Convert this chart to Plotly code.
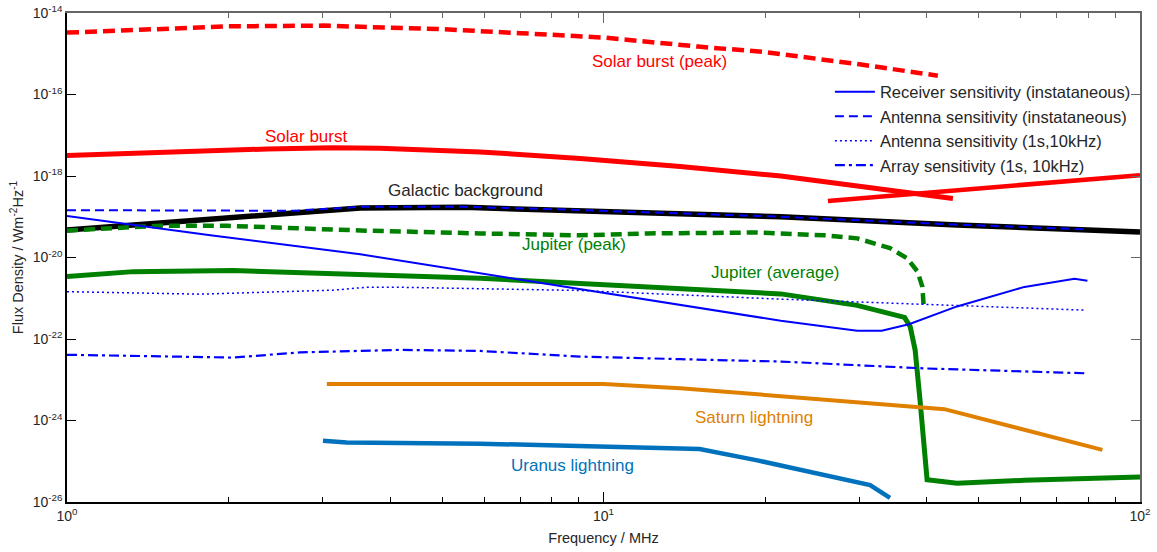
import numpy as np
import plotly.graph_objects as go

# ---------------- data (frequency in MHz, flux density in W m^-2 Hz^-1) ----------------
sbp_f = [1.0, 1.5, 2.0, 3.0, 4.0, 5.0, 7.0, 10, 15, 20, 30, 42]
sbp_s = [3.3e-15, 4.2e-15, 4.7e-15, 4.9e-15, 4.45e-15, 4.0e-15, 3.2e-15, 2.5e-15, 1.5e-15, 1.1e-15, 5.5e-16, 2.9e-16]

sb_f = [1.0, 1.33, 1.77, 2.36, 3.13, 3.83, 5.89, 9.05, 13.9, 21.4, 44.8]
sb_s = [3.2e-18, 3.6e-18, 4.2e-18, 4.6e-18, 4.9e-18, 4.8e-18, 3.9e-18, 2.7e-18, 1.7e-18, 1.0e-18, 2.8e-19]

sbh_f = [26.2, 100]
sbh_s = [2.45e-19, 1.05e-18]

gal_f = [1.0, 1.39, 1.85, 2.64, 3.52, 5.5, 7.85, 12.06, 18.5, 21.4, 45.6, 100]
gal_s = [4.7e-20, 6.4e-20, 8.7e-20, 1.26e-19, 1.65e-19, 1.7e-19, 1.5e-19, 1.28e-19, 1.1e-19, 1.0e-19, 6.3e-20, 4.2e-20]

jp_f = [1.0, 1.49, 1.99, 2.64, 3.52, 5.89, 9.05, 12.06, 19.35, 25.8, 29.7, 34.2, 36.8, 38.5, 39.3, 39.5]
jp_s = [4.6e-20, 6.0e-20, 6.0e-20, 5.2e-20, 4.6e-20, 3.9e-20, 3.5e-20, 3.9e-20, 4.1e-20, 3.5e-20,
        2.95e-20, 1.7e-20, 9.6e-21, 4.5e-21, 1.9e-21, 6.9e-22]

ja_f = [1.0, 1.33, 2.04, 3.13, 3.62, 5.89, 9.05, 13.9, 21.4, 29.7, 36.4, 37.3, 38.1, 38.9, 39.6, 40.1, 45.6, 60.9, 100]
ja_s = [3.4e-21, 4.5e-21, 4.8e-21, 4.1e-21, 3.7e-21, 3.1e-21, 2.3e-21, 1.76e-21, 1.28e-21, 6.7e-22,
        3.4e-22, 2.0e-22, 5.3e-23, 3.2e-24, 1.6e-25, 3.5e-26, 2.9e-26, 3.4e-26, 4.1e-26]

sat_f = [3.05, 10, 13.9, 21.4, 38.9, 43.2, 85.1]
sat_s = [7.9e-24, 7.9e-24, 6.2e-24, 3.9e-24, 2.1e-24, 1.9e-24, 1.9e-25]

ura_f = [3.0, 3.32, 5.89, 9.05, 15.1, 19.35, 31.4, 34.2]
ura_s = [3.2e-25, 2.9e-25, 2.7e-25, 2.3e-25, 2.0e-25, 1.05e-25, 2.6e-26, 1.26e-26]

rx_f = [1.0, 1.85, 3.52, 5.3, 10, 21.4, 29.7, 33.0, 37.1, 45.6, 60.9, 75.5, 79.8]
rx_s = [1.05e-19, 3.5e-20, 1.2e-20, 5.1e-21, 1.4e-21, 2.8e-22, 1.6e-22, 1.6e-22, 2.3e-22, 6.3e-22, 1.9e-21, 3.0e-21, 2.7e-21]

ant_f = [1.0, 1.85, 2.64, 3.52, 5.5, 7.85, 12.06, 18.5, 21.4, 45.6, 79.8]
ant_s = [1.45e-19, 1.45e-19, 1.4e-19, 1.75e-19, 1.75e-19, 1.55e-19, 1.3e-19, 1.1e-19, 1.0e-19, 6.4e-20, 4.9e-20]

ant1_f = [1.0, 1.77, 3.13, 3.62, 4.18, 9.05, 21.4, 39.6, 79.1]
ant1_s = [1.45e-21, 1.26e-21, 1.58e-21, 1.86e-21, 1.86e-21, 1.55e-21, 9.5e-22, 7.2e-22, 5.1e-22]

arr_f = [1.0, 1.77, 2.04, 2.72, 4.18, 5.89, 9.05, 13.9, 21.4, 39.6, 79.1]
arr_s = [4.1e-23, 3.6e-23, 3.5e-23, 4.7e-23, 5.4e-23, 5.1e-23, 3.7e-23, 3.2e-23, 2.8e-23, 1.9e-23, 1.44e-23]

x_major = [1, 10, 100]
x_major_text = ["10<sup>0</sup>", "10<sup>1</sup>", "10<sup>2</sup>"]
x_minor = [2, 3, 4, 5, 6, 7, 8, 9, 20, 30, 40, 50, 60, 70, 80, 90]
y_exps = [-26, -24, -22, -20, -18, -16, -14]

legend_names = ["Receiver sensitivity (instataneous)", "Antenna sensitivity (instataneous)",
                "Antenna sensitivity (1s,10kHz)", "Array sensitivity (1s, 10kHz)"]

# ---------------- figure ----------------
RED = "#FF0000"
GREEN = "#008000"
BLUE = "#0000FF"
ORANGE = "#E08000"
URANUS = "#0072BD"

fig = go.Figure()

def add(x, y, color, width, dash="solid", name=None, show=False):
    fig.add_trace(go.Scatter(x=x, y=y, mode="lines", name=name, showlegend=show,
                             line=dict(color=color, width=width, dash=dash),
                             hoverinfo="skip"))

add(sbp_f, sbp_s, RED, 4.5, "12px,6px")
add(sb_f, sb_s, RED, 5)
add(sbh_f, sbh_s, RED, 4.5)
add(gal_f, gal_s, "black", 5.5)
add(jp_f, jp_s, GREEN, 4.5, "11px,6px")
add(ja_f, ja_s, GREEN, 5)
add(sat_f, sat_s, ORANGE, 4)
add(ura_f, ura_s, URANUS, 4.5)
add(rx_f, rx_s, BLUE, 2, "solid", legend_names[0], True)
add(ant_f, ant_s, BLUE, 2, "9px,5px", legend_names[1], True)
add(ant1_f, ant1_s, BLUE, 1.5, "2px,3px", legend_names[2], True)
add(arr_f, arr_s, BLUE, 2.2, "10px,4px,3px,4px", legend_names[3], True)

# invisible trace anchoring the mirrored (gray) frame axes
fig.add_trace(go.Scatter(x=gal_f, y=gal_s, mode="lines", xaxis="x2", yaxis="y2",
                         showlegend=False, hoverinfo="skip", opacity=0,
                         line=dict(color="rgba(0,0,0,0)")))

FONT = "Liberation Sans, Arial, sans-serif"
TXT = "#262626"

labels = [
    ("Solar burst (peak)", 12.7, -15.18, RED),
    ("Solar burst", 2.79, -17.02, RED),
    ("Galactic background", 5.52, -18.35, "#262626"),
    ("Jupiter (peak)", 8.82, -19.67, GREEN),
    ("Jupiter (average)", 20.9, -20.36, GREEN),
    ("Saturn lightning", 19.1, -23.93, ORANGE),
    ("Uranus lightning", 8.74, -25.11, URANUS),
]
for txt, fx, ey, col in labels:
    fig.add_annotation(x=np.log10(fx), y=ey, text=txt, showarrow=False,
                       font=dict(family=FONT, size=17, color=col),
                       xanchor="center", yanchor="middle")

fig.update_layout(
    width=1157, height=552,
    margin=dict(l=67, r=17, t=13, b=50),
    paper_bgcolor="white", plot_bgcolor="white",
    font=dict(family=FONT, color=TXT),
    showlegend=True,
    legend=dict(x=0.711, y=0.874, xanchor="left", yanchor="top",
                bgcolor="rgba(0,0,0,0)", font=dict(family=FONT, size=16.5, color=TXT),
                itemwidth=40, tracegroupgap=0),
    xaxis=dict(type="log", range=[0, 2], showgrid=False, zeroline=False,
               showline=True, linecolor="black", linewidth=1.5,
               ticks="inside", ticklen=10, tickcolor="black",
               tickvals=x_major, ticktext=x_major_text, ticklabeloverflow="allow",
               tickfont=dict(family=FONT, size=14, color=TXT),
               minor=dict(tickvals=x_minor, ticks="inside", ticklen=5, tickcolor="black", showgrid=False),
               title=dict(text="Frequency / MHz", font=dict(family=FONT, size=14.5, color=TXT), standoff=10),
               automargin=False),
    yaxis=dict(type="log", range=[-26, -14], showgrid=False, zeroline=False,
               showline=True, linecolor="black", linewidth=1.5,
               ticks="inside", ticklen=9, tickcolor="black",
               tickvals=[10.0 ** e for e in y_exps],
               ticktext=["10<sup>%d</sup>" % e for e in y_exps], ticklabeloverflow="allow",
               tickfont=dict(family=FONT, size=14, color=TXT),
               title=dict(text="Flux Density / Wm<sup>-2</sup>Hz<sup>-1</sup>",
                          font=dict(family=FONT, size=14.5, color=TXT), standoff=6),
               automargin=False),
    xaxis2=dict(type="log", range=[0, 2], overlaying="x", side="top", anchor="y",
                showgrid=False, zeroline=False, showline=True, linecolor="#666666", linewidth=1.5,
                ticks="inside", ticklen=10, tickcolor="#666666",
                tickvals=x_major, showticklabels=False,
                minor=dict(tickvals=x_minor, ticks="inside", ticklen=5, tickcolor="#666666", showgrid=False)),
    yaxis2=dict(type="log", range=[-26, -14], overlaying="y", side="right", anchor="x",
                showgrid=False, zeroline=False, showline=True, linecolor="#666666", linewidth=1.5,
                ticks="inside", ticklen=9, tickcolor="#666666",
                tickvals=[10.0 ** e for e in y_exps], showticklabels=False),
)

# remove the browser's default 8px page margin so the figure fills the window exactly
fig.write_html("out.html", config={"displayModeBar": False},
               post_script="document.body.style.margin='0px';document.body.style.overflow='hidden';")
